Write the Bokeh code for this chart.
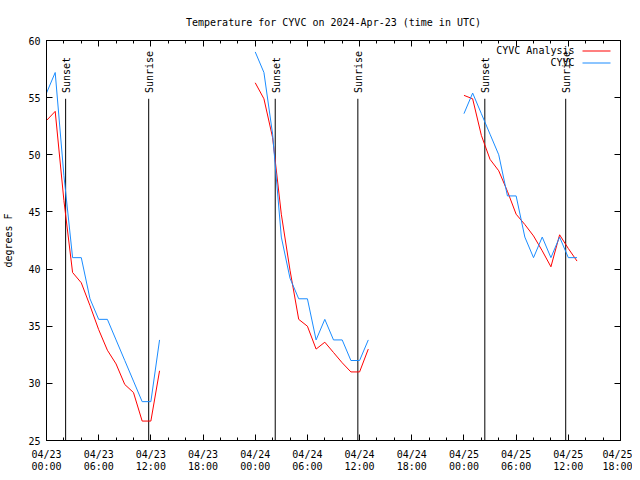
import math
from bokeh.plotting import figure
from bokeh.models import FixedTicker, LinearAxis, Range1d, Label, BoxAnnotation, ColumnDataSource
from bokeh.embed import file_html
from bokeh.resources import INLINE
from bokeh.core.properties import value

TITLE = "Temperature for CYVC on 2024-Apr-23 (time in UTC)"
Y_LABEL = "degrees F"

# hours since 2024-04-23 00:00 UTC (NaN splits the three daily runs)
NAN = float("nan")
hours = [0, 1, 2, 3, 4, 5, 6, 7, 8, 9, 10, 11, 12, 13, NAN,
         24, 25, 26, 27, 28, 29, 30, 31, 32, 33, 34, 35, 36, 37, NAN,
         48, 49, 50, 51, 52, 53, 54, 55, 56, 57, 58, 59, 60, 61]

analysis_temp = [53.0, 53.8, 46.0, 39.7, 38.8, 36.8, 34.7, 32.9, 31.7, 29.9, 29.2, 26.7, 26.7, 31.1, NAN,
                 56.3, 54.9, 51.5, 44.8, 39.9, 35.6, 35.0, 33.0, 33.6, 32.7, 31.8, 31.0, 31.0, 33.0, NAN,
                 55.2, 54.9, 51.7, 49.6, 48.6, 46.8, 44.8, 43.9, 42.9, 41.6, 40.2, 43.0, 41.8, 40.7]

obs_temp = [55.4, 57.2, 48.2, 41.0, 41.0, 37.4, 35.6, 35.6, 33.8, 32.0, 30.2, 28.4, 28.4, 33.8, NAN,
            59.0, 57.2, 51.8, 42.8, 39.2, 37.4, 37.4, 33.8, 35.6, 33.8, 33.8, 32.0, 32.0, 33.8, NAN,
            53.6, 55.4, 53.6, 51.8, 50.0, 46.4, 46.4, 42.8, 41.0, 42.8, 41.0, 42.8, 41.0, 41.0]

sunset_hours = [2.2, 26.3, 50.4]
sunrise_hours = [11.75, 35.8, 59.7]

series_names = ["CYVC Analysis", "CYVC"]
series_colors = ["#ff0000", "#1a8cff"]

x_ticks = [0, 6, 12, 18, 24, 30, 36, 42, 48, 54, 60, 66]
x_date_labels = ["04/23", "04/23", "04/23", "04/23", "04/24", "04/24",
                 "04/24", "04/24", "04/25", "04/25", "04/25", "04/25"]
x_time_labels = ["00:00", "06:00", "12:00", "18:00", "00:00", "06:00",
                 "12:00", "18:00", "00:00", "06:00", "12:00", "18:00"]
y_ticks = [25, 30, 35, 40, 45, 50, 55, 60]

FONT = "DejaVu Sans Mono"
FS = "10px"

p = figure(frame_width=574, frame_height=400, x_range=Range1d(0, 66), y_range=Range1d(25, 60),
           output_backend="svg", toolbar_location=None, title=TITLE,
           x_axis_location=None, y_axis_location=None)
p.min_border_left = 38
p.min_border_right = 12
p.min_border_top = 40
p.min_border_bottom = 0
p.title.align = "center"
p.title.text_font = FONT
p.title.text_font_size = FS
p.title.text_font_style = "normal"
p.title.text_color = "black"
p.title.standoff = 25
p.xgrid.visible = False
p.ygrid.visible = False
p.outline_line_color = "black"
p.outline_line_width = 1
p.background_fill_color = "white"
p.border_fill_color = "white"

minor = [h for h in range(0, 67, 2)]

def style(ax):
    ax.axis_line_color = "black"
    ax.major_tick_line_color = "black"
    ax.minor_tick_line_color = "black"
    ax.major_tick_in = 6
    ax.major_tick_out = 0
    ax.minor_tick_in = 3
    ax.minor_tick_out = 0
    ax.major_label_text_font = FONT
    ax.major_label_text_font_size = FS
    ax.major_label_text_color = "black"
    ax.axis_label = None
    ax.axis_label_standoff = 0

def xaxis(labels, standoff):
    ax = LinearAxis(ticker=FixedTicker(ticks=x_ticks, minor_ticks=minor))
    style(ax)
    ax.major_label_overrides = {t: l for t, l in zip(x_ticks, labels)}
    ax.major_label_standoff = standoff
    return ax

def yaxis(labels):
    ax = LinearAxis(ticker=FixedTicker(ticks=y_ticks, minor_ticks=[]))
    style(ax)
    if labels:
        ax.major_label_standoff = 6
        ax.axis_label = Y_LABEL
        ax.axis_label_text_font = FONT
        ax.axis_label_text_font_size = FS
        ax.axis_label_text_font_style = "normal"
        ax.axis_label_text_color = "black"
        ax.axis_label_standoff = 11
    else:
        ax.major_label_overrides = {t: "" for t in y_ticks}
        ax.major_label_standoff = 0
    return ax

# bottom: date row next to the frame, time row below it
p.add_layout(xaxis(x_date_labels, 8), "below")
time_axis = xaxis(x_time_labels, -2)
time_axis.axis_line_color = None
time_axis.major_tick_line_color = None
time_axis.minor_tick_line_color = None
p.add_layout(time_axis, "below")
p.add_layout(xaxis([""] * len(x_ticks), 0), "above")
p.add_layout(yaxis(True), "left")
p.add_layout(yaxis(False), "right")

# sunrise / sunset markers
sun_top = 54.9
sun_label_y = 55.4
sun_x = sunset_hours + sunrise_hours
sun_text = ["Sunset"] * len(sunset_hours) + ["Sunrise"] * len(sunrise_hours)
sun_src = ColumnDataSource(dict(x=sun_x, y0=[25] * len(sun_x), y1=[sun_top] * len(sun_x),
                                ly=[sun_label_y] * len(sun_x), text=sun_text))
p.segment(x0="x", y0="y0", x1="x", y1="y1", source=sun_src, line_color="black", line_width=1)
p.text(x="x", y="ly", text="text", source=sun_src, angle=math.pi / 2,
       text_align="left", text_baseline="middle",
       text_font=value(FONT), text_font_size=FS, text_color="black", x_offset=1)

# data
p.line(hours, analysis_temp, line_color=series_colors[0], line_width=1)
p.line(hours, obs_temp, line_color=series_colors[1], line_width=1)

# gnuplot-style key (text right aligned, sample on the right)
key_rows = [390, 378]
for name, color, yy in zip(series_names, series_colors, key_rows):
    p.add_layout(Label(x=528, y=yy, x_units="screen", y_units="screen", text=name,
                       text_align="right", text_baseline="middle",
                       text_font=FONT, text_font_size=FS, text_color="black"))
    p.add_layout(BoxAnnotation(left=536, right=564, bottom=yy - 1, top=yy,
                               left_units="screen", right_units="screen",
                               bottom_units="screen", top_units="screen",
                               fill_color=color, fill_alpha=1.0, line_color=None,
                               line_alpha=0))

open("out.html", "w").write(file_html(p, INLINE))
